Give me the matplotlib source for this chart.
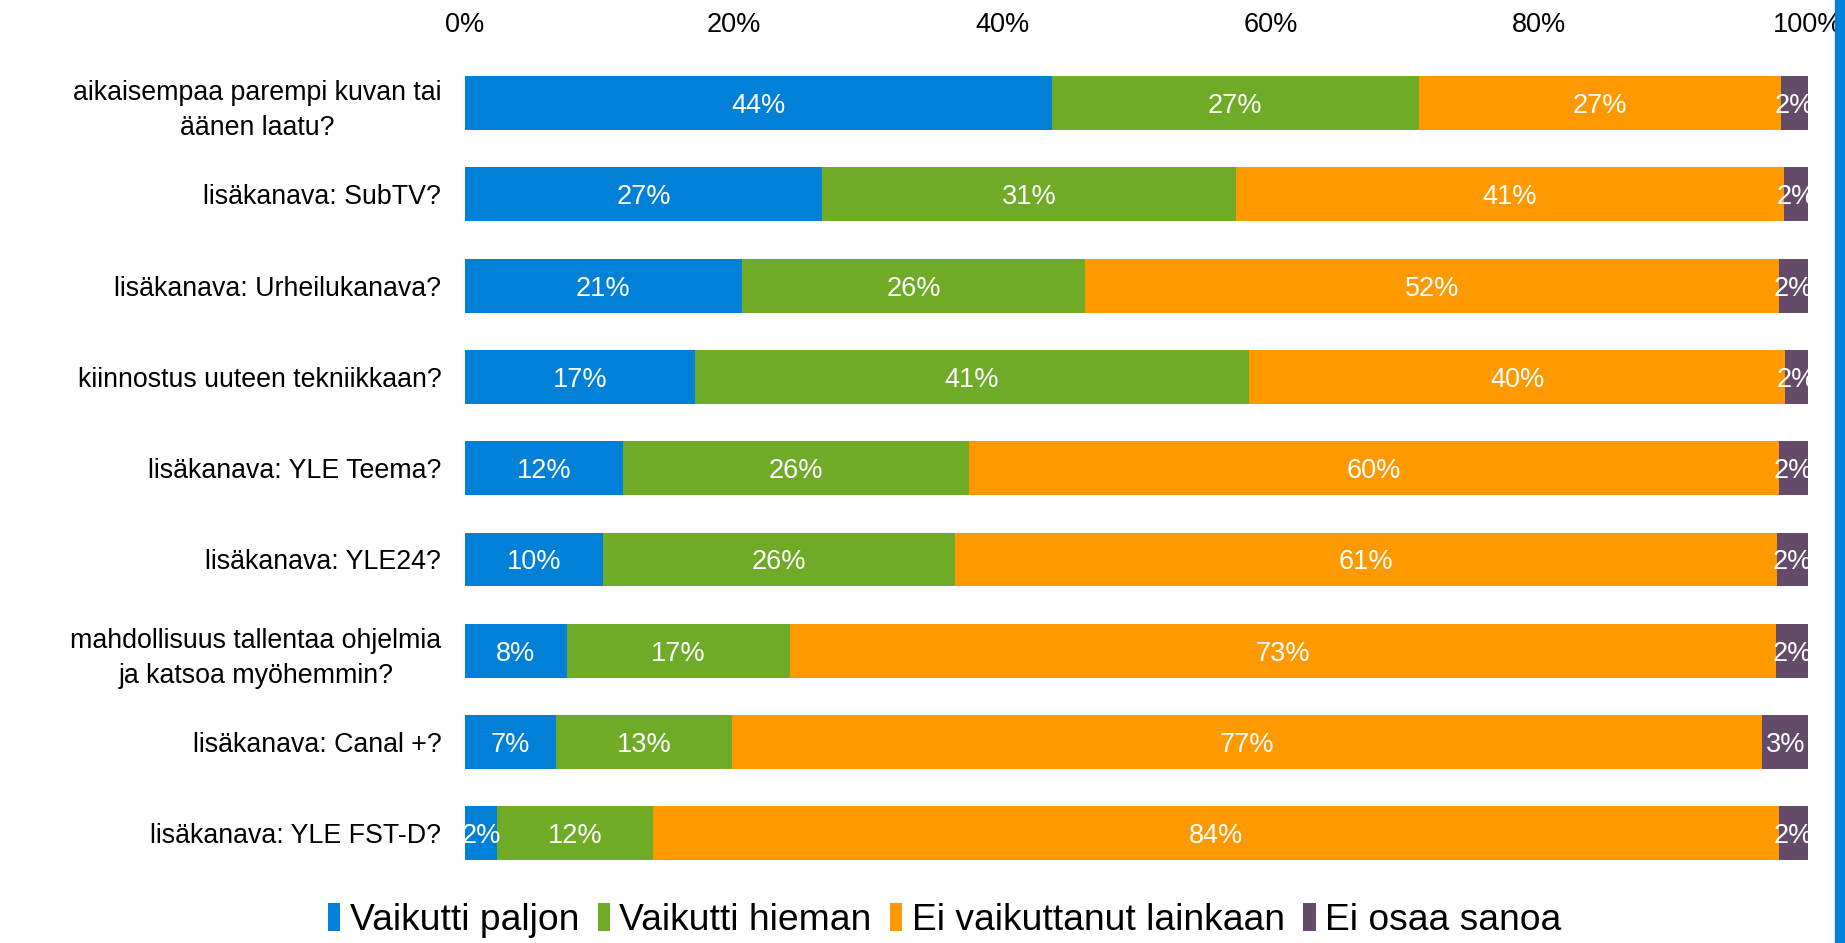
import matplotlib.pyplot as plt
from matplotlib.patches import Rectangle

plt.rcParams['font.family'] = ['Liberation Sans', 'DejaVu Sans']

categories = [
    'aikaisempaa parempi kuvan tai\näänen laatu?',
    'lisäkanava: SubTV?',
    'lisäkanava: Urheilukanava?',
    'kiinnostus uuteen tekniikkaan?',
    'lisäkanava: YLE Teema?',
    'lisäkanava: YLE24?',
    'mahdollisuus tallentaa ohjelmia\nja katsoa myöhemmin?',
    'lisäkanava: Canal +?',
    'lisäkanava: YLE FST-D?',
]
series_names = ['Vaikutti paljon', 'Vaikutti hieman', 'Ei vaikuttanut lainkaan', 'Ei osaa sanoa']
paljon = [43.7, 26.6, 20.6, 17.1, 11.8, 10.3, 7.6, 6.8, 2.4]
hieman = [27.3, 30.8, 25.6, 41.3, 25.7, 26.2, 16.6, 13.1, 11.6]
ei_lainkaan = [27.0, 40.8, 51.6, 39.9, 60.3, 61.2, 73.4, 76.7, 83.8]
ei_osaa = [2.0, 1.8, 2.2, 1.7, 2.2, 2.3, 2.4, 3.4, 2.2]
colors = ['#0081d7', '#6fab26', '#fe9900', '#644b69']
xticks = [0, 20, 40, 60, 80, 100]

fig = plt.figure(figsize=(18.45, 9.43), dpi=100)
ax = fig.add_axes([0.252, 0.068, 0.728, 0.871])

y = list(range(len(categories)))
left = [0.0] * len(categories)
for name, vals, col in zip(series_names, [paljon, hieman, ei_lainkaan, ei_osaa], colors):
    ax.barh(y, vals, left=left, height=0.59, color=col, label=name)
    for i, v in enumerate(vals):
        ax.text(left[i] + v / 2, i, f'{v:.0f}%', ha='center', va='center_baseline',
                color='white', fontsize=19.5, clip_on=True)
    left = [a + b for a, b in zip(left, vals)]

ax.set_xlim(0, 100)
ax.set_ylim(len(categories) - 0.5, -0.5)
ax.set_yticks(y)
ax.set_yticklabels(categories, fontsize=19.3, linespacing=1.45)
for t in ax.get_yticklabels():
    t.set_multialignment('center')
ax.set_xticks(xticks)
ax.set_xticklabels([f'{t}%' for t in xticks], fontsize=19.5)
ax.xaxis.tick_top()
ax.tick_params(axis='x', length=0, pad=14)
ax.tick_params(axis='y', length=0, pad=17)
for s in ax.spines.values():
    s.set_visible(False)

fig.legend(loc='center', bbox_to_anchor=(0.512, 0.024), ncol=4, frameon=False,
           fontsize=26.8, handlelength=0.33, handleheight=0.8, handletextpad=0.25,
           columnspacing=0.5)

# blue strip at the right edge
fig.patches.append(Rectangle((1835 / 1845, 0), 10 / 1845, 1, transform=fig.transFigure,
                             color='#0081d7', zorder=0))

fig.savefig('out.png', dpi=100)
